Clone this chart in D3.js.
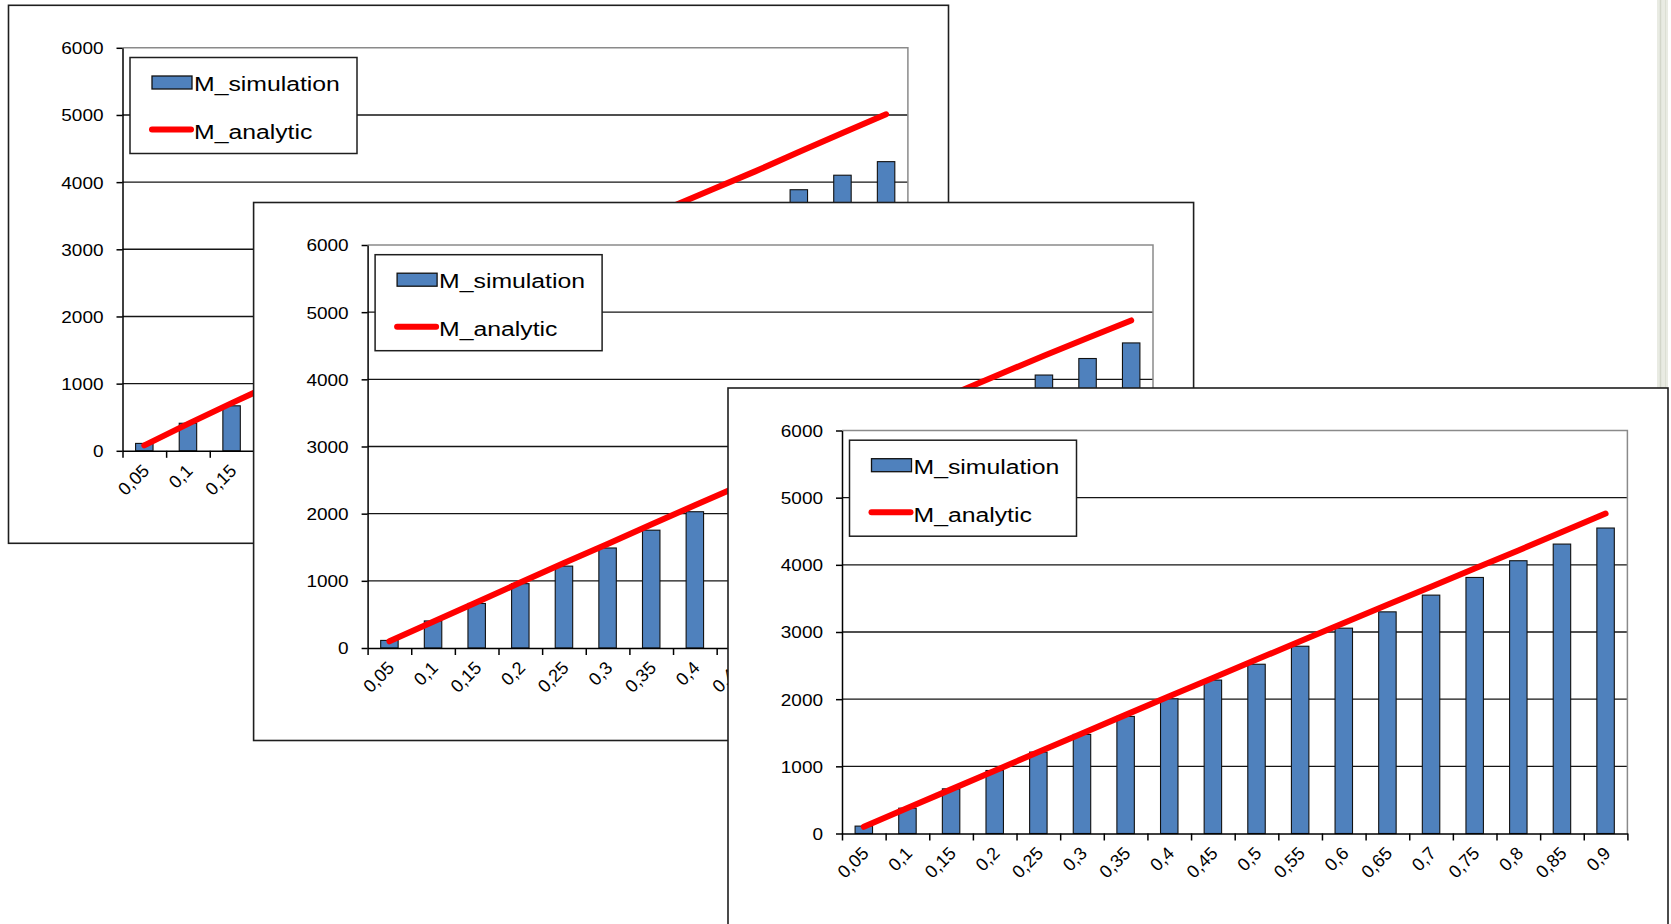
<!DOCTYPE html>
<html>
<head>
<meta charset="utf-8">
<script src="https://cdn.jsdelivr.net/npm/d3@7"></script>
<style>
  html, body { margin: 0; padding: 0; background: #fff; overflow: hidden; }
  svg { display: block; }
  text { font-family: "Liberation Sans", Arial, sans-serif; fill: #000; }
</style>
</head>
<body>
<svg id="chart" width="1671" height="924"></svg>
<script>
// Load factor categories (x axis)
const categories = ["0,05","0,1","0,15","0,2","0,25","0,3","0,35","0,4","0,45",
                    "0,5","0,55","0,6","0,65","0,7","0,75","0,8","0,85","0,9"];
// Value axis ticks
const yTicks = [0, 1000, 2000, 3000, 4000, 5000, 6000];
const seriesNames = ["M_simulation", "M_analytic"];

// Run A
const simulationA = [110, 410, 670, 940, 1200, 1460, 1720, 1970, 2220, 2470, 2720, 2960, 3200, 3430, 3660, 3887, 4103, 4305];
const analyticA   = [80, 400, 710, 1010, 1310, 1605, 1900, 2190, 2480, 2765, 3050, 3330, 3610, 3885, 4160, 4450, 4730, 5010];
// Run B
const simulationB = [113, 403, 663, 958, 1219, 1489, 1754, 2029, 2290, 2555, 2810, 3070, 3320, 3570, 3815, 4064, 4310, 4542];
const analyticB   = [100, 390, 680, 975, 1265, 1550, 1840, 2125, 2410, 2690, 2970, 3250, 3530, 3805, 4080, 4350, 4615, 4877];
// Run C
const simulationC = [110, 377, 665, 938, 1212, 1475, 1743, 2005, 2284, 2520, 2788, 3057, 3300, 3549, 3812, 4061, 4309, 4548];
const analyticC   = [99, 378, 657, 935, 1213, 1490, 1766, 2042, 2316, 2590, 2862, 3134, 3405, 3675, 3944, 4213, 4490, 4763];

// ---- layout ----
const svg = d3.select("#chart");
const PANEL_W = 940, PANEL_H = 538;
const PLOT = { left: 114, top: 42.5, width: 785.4, height: 403 };
const TEXT_STRETCH = 1.15;
const LEGEND_STRETCH = 1.18;

// window scrollbar strip at the right edge
svg.append("rect").attr("x", 1657).attr("y", 0).attr("width", 11).attr("height", 388)
  .attr("fill", "#e9ebe3");
svg.append("line").attr("x1", 1660.5).attr("x2", 1660.5).attr("y1", 0).attr("y2", 388)
  .attr("stroke", "#d3d6ca").attr("stroke-width", 1.5);
svg.append("line").attr("x1", 1665.5).attr("x2", 1665.5).attr("y1", 0).attr("y2", 388)
  .attr("stroke", "#dcdfd4").attr("stroke-width", 1);

function drawPanel(ox, oy, simulation, analytic) {
  const panel = svg.append("g").attr("transform", `translate(${ox},${oy})`);

  // chart frame
  panel.append("rect")
    .attr("x", 0).attr("y", 0).attr("width", PANEL_W).attr("height", PANEL_H)
    .attr("fill", "#fff").attr("stroke", "#1e1e1e").attr("stroke-width", 1.6);

  const g = panel.append("g").attr("transform", `translate(${PLOT.left},${PLOT.top})`);
  const pw = PLOT.width, ph = PLOT.height;

  const x = d3.scaleBand().domain(categories).range([0, pw])
    .paddingInner(0.6).paddingOuter(0.3);
  const edges = d3.scaleLinear().domain([0, categories.length]).range([0, pw]);
  const y = d3.scaleLinear().domain([0, 6000]).range([ph, 0]);

  // horizontal gridlines
  g.append("g").selectAll("line")
    .data(yTicks.filter(v => v > 0 && v < 6000))
    .join("line")
    .attr("x1", 0).attr("x2", pw)
    .attr("y1", d => y(d)).attr("y2", d => y(d))
    .attr("stroke", "#151515").attr("stroke-width", 1.4);

  // plot area border (top and right)
  g.append("path")
    .attr("d", `M0,${y(6000)}H${pw}V${ph}`)
    .attr("fill", "none").attr("stroke", "#8a8a8a").attr("stroke-width", 1.5);

  // bars
  g.append("g").selectAll("rect")
    .data(categories.map((c, i) => ({ c, v: simulation[i] })))
    .join("rect")
    .attr("x", d => x(d.c))
    .attr("y", d => y(d.v))
    .attr("width", x.bandwidth())
    .attr("height", d => ph - y(d.v))
    .attr("fill", "#4f81bd").attr("stroke", "#111").attr("stroke-width", 1.1);

  // y axis
  const yAxis = g.append("g")
    .call(d3.axisLeft(y).tickValues(yTicks).tickSize(6).tickSizeOuter(0).tickFormat(d => String(d)));
  yAxis.select(".domain").attr("stroke", "#000").attr("stroke-width", 1.5);
  yAxis.selectAll(".tick line").attr("stroke", "#000").attr("stroke-width", 1.5);
  yAxis.selectAll(".tick text")
    .attr("x", null).attr("dy", "0.36em")
    .attr("transform", `translate(-19,0) scale(${TEXT_STRETCH},1)`)
    .attr("font-size", 16.5).attr("font-family", "Liberation Sans, Arial, sans-serif")
    .attr("fill", "#000");

  // x axis with tick marks on category boundaries
  const xAxis = g.append("g").attr("transform", `translate(0,${ph})`)
    .call(d3.axisBottom(edges).tickValues(d3.range(categories.length + 1))
      .tickSize(7).tickSizeOuter(0).tickFormat(""));
  xAxis.select(".domain").attr("stroke", "#000").attr("stroke-width", 1.5);
  xAxis.selectAll(".tick line").attr("stroke", "#000").attr("stroke-width", 1.5);

  // rotated category labels
  g.append("g").selectAll("text")
    .data(categories)
    .join("text")
    .attr("transform", d => `translate(${x(d) + x.bandwidth() / 2 + 6},${ph + 21}) rotate(-45)`)
    .attr("text-anchor", "end")
    .attr("font-size", 18)
    .text(d => d);

  // analytic curve
  const line = d3.line()
    .x((d, i) => x(categories[i]) + x.bandwidth() / 2)
    .y(d => y(d));
  g.append("path")
    .datum(analytic)
    .attr("d", line)
    .attr("fill", "none").attr("stroke", "#ff0000").attr("stroke-width", 6)
    .attr("stroke-linecap", "round").attr("stroke-linejoin", "round");

  // legend
  const lg = g.append("g").attr("transform", "translate(7.5,9.7)");
  lg.append("rect").attr("width", 227).attr("height", 96)
    .attr("fill", "#fff").attr("stroke", "#1e1e1e").attr("stroke-width", 1.5);
  lg.append("rect").attr("x", 22).attr("y", 18.5).attr("width", 40).attr("height", 13)
    .attr("fill", "#4f81bd").attr("stroke", "#111").attr("stroke-width", 1.3);
  lg.append("line").attr("x1", 22).attr("x2", 61).attr("y1", 72).attr("y2", 72)
    .attr("stroke", "#ff0000").attr("stroke-width", 6).attr("stroke-linecap", "round");
  lg.selectAll("text.lbl")
    .data(seriesNames)
    .join("text")
    .attr("class", "lbl")
    .attr("transform", (d, i) => `translate(64,${i === 0 ? 33.5 : 81.5})scale(${LEGEND_STRETCH},1)`)
    .attr("font-size", 21)
    .text(d => d);
}

drawPanel(8.5, 5.3, simulationA, analyticA);
drawPanel(253.6, 202.5, simulationB, analyticB);
drawPanel(728, 388, simulationC, analyticC);
</script>
</body>
</html>
